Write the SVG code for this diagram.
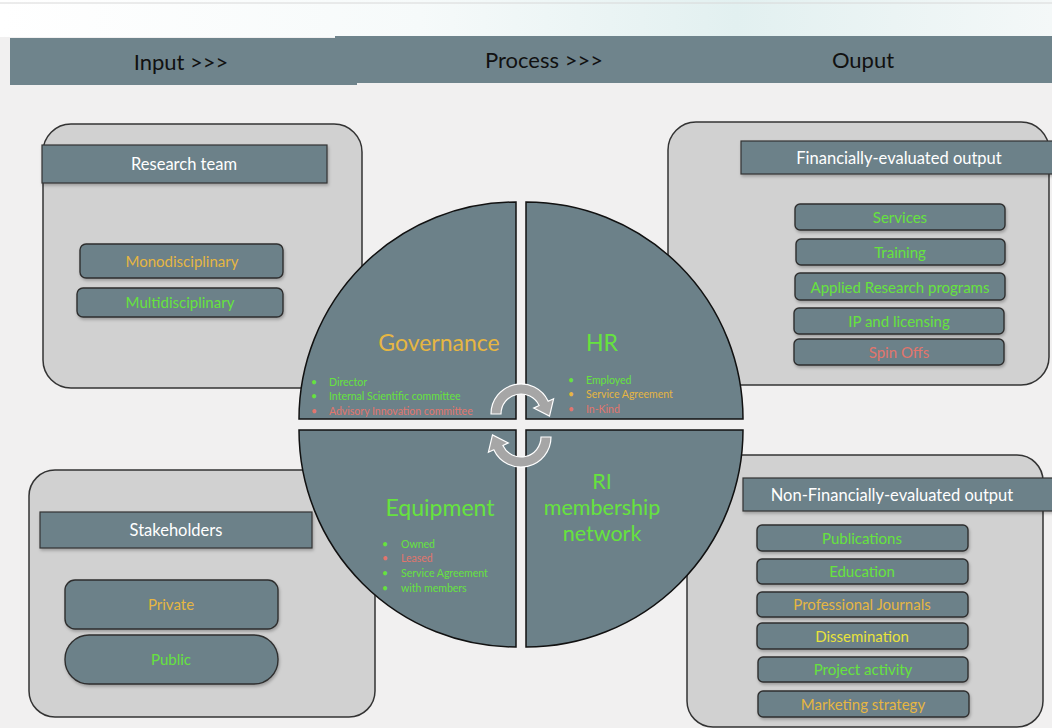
<svg xmlns="http://www.w3.org/2000/svg" width="1052" height="728" viewBox="0 0 1052 728">
<defs>
<linearGradient id="topg" x1="0" y1="0" x2="1" y2="0">
<stop offset="0" stop-color="#ffffff"/>
<stop offset="0.4" stop-color="#f6fafa"/>
<stop offset="0.7" stop-color="#e2f0f0"/>
<stop offset="1" stop-color="#f4f8f8"/>
</linearGradient>
<filter id="sh" x="-10%" y="-10%" width="120%" height="130%">
<feDropShadow dx="1" dy="2" stdDeviation="1.5" flood-color="#000" flood-opacity="0.25"/>
</filter>
</defs>
<style>
text{font-family:Lato,"Liberation Sans",sans-serif;}
.band{fill:#6f848c;}
.bandt{font-size:22px;fill:#111;text-anchor:middle;}
.panel{fill:#d1d1d1;stroke:#333;stroke-width:1.5;}
.ph{fill:#6c8189;stroke:#333;stroke-width:1.2;filter:url(#sh);}
.pht{font-size:16.5px;fill:#fff;text-anchor:middle;}
.box{fill:#6c8189;stroke:#2e2e2e;stroke-width:1.4;filter:url(#sh);}
.bt{font-size:15px;text-anchor:middle;}
.q{fill:#6c8189;stroke:#111;stroke-width:1.5;}
.qt{font-size:23px;text-anchor:middle;}
.qt2{font-size:21.5px;text-anchor:middle;}
.bl{font-size:10.5px;}
.g{fill:#66e33e;}
.o{fill:#e6b642;}
.r{fill:#e2756c;}
.y{fill:#e9e23a;}
.arr{fill:#a6a6a6;stroke:#ffffff;stroke-width:1.2;}
</style>
<rect x="0" y="0" width="1052" height="728" fill="#f1f0f0"/>
<rect x="0" y="0" width="1052" height="37" fill="url(#topg)"/>
<line x1="0" y1="3" x2="1052" y2="3" stroke="#d8d8d8" stroke-width="1"/>
<g id="header">
<rect class="band" x="10" y="38" width="347" height="47"/>
<rect class="band" x="335" y="36" width="717" height="47"/>
<text class="bandt" x="181" y="70">Input &gt;&gt;&gt;</text>
<text class="bandt" x="544" y="68">Process &gt;&gt;&gt;</text>
<text class="bandt" x="863" y="68">Ouput</text>
</g>
<g id="research-team">
<rect class="panel" x="43" y="124" width="319" height="264" rx="28"/>
<rect class="ph" x="42" y="145" width="285" height="38"/>
<text class="pht" x="184" y="170">Research team</text>
<rect class="box" x="80" y="244" width="203" height="34" rx="6"/>
<text class="bt o" x="182" y="267">Monodisciplinary</text>
<rect class="box" x="77" y="288" width="206" height="29" rx="6"/>
<text class="bt g" x="180" y="308">Multidisciplinary</text>
</g>
<g id="stakeholders">
<rect class="panel" x="29" y="470" width="346" height="247" rx="26"/>
<rect class="ph" x="40" y="512" width="272" height="36"/>
<text class="pht" x="176" y="536">Stakeholders</text>
<rect class="box" x="65" y="580" width="213" height="49" rx="10"/>
<text class="bt o" x="171" y="610">Private</text>
<rect class="box" x="65" y="635" width="213" height="49" rx="24"/>
<text class="bt g" x="171" y="665">Public</text>
</g>
<g id="financial-output">
<rect class="panel" x="668" y="122" width="381" height="263" rx="28"/>
<rect class="ph" x="741" y="141" width="320" height="33"/>
<text class="pht" x="899" y="164">Financially-evaluated output</text>
<rect class="box" x="795" y="204" width="210" height="26" rx="5"/>
<text class="bt g" x="900" y="223">Services</text>
<rect class="box" x="796" y="239" width="209" height="26" rx="5"/>
<text class="bt g" x="900" y="258">Training</text>
<rect class="box" x="795" y="273" width="210" height="27" rx="5"/>
<text class="bt g" x="900" y="293">Applied Research programs</text>
<rect class="box" x="794" y="308" width="210" height="26" rx="5"/>
<text class="bt g" x="899" y="327">IP and licensing</text>
<rect class="box" x="794" y="339" width="210" height="26" rx="5"/>
<text class="bt r" x="899" y="358">Spin Offs</text>
</g>
<g id="nonfinancial-output">
<rect class="panel" x="687" y="455" width="356" height="272" rx="26"/>
<rect class="ph" x="743" y="478" width="310" height="33"/>
<text class="pht" x="892" y="501">Non-Financially-evaluated output</text>
<rect class="box" x="757" y="525" width="211" height="26" rx="5"/>
<text class="bt g" x="862" y="544">Publications</text>
<rect class="box" x="757" y="559" width="211" height="25" rx="5"/>
<text class="bt g" x="862" y="577">Education</text>
<rect class="box" x="757" y="592" width="211" height="25" rx="5"/>
<text class="bt o" x="862" y="610">Professional Journals</text>
<rect class="box" x="757" y="623" width="211" height="26" rx="5"/>
<text class="bt y" x="862" y="642">Dissemination</text>
<rect class="box" x="758" y="657" width="210" height="25" rx="5"/>
<text class="bt g" x="863" y="675">Project activity</text>
<rect class="box" x="758" y="691" width="211" height="26" rx="5"/>
<text class="bt o" x="863" y="710">Marketing strategy</text>
</g>
<g id="governance">
<path class="q" d="M516 419 L299 419 A217 217 0 0 1 516 202 Z"/>
<text class="qt o" x="439" y="351">Governance</text>
<g class="bl">
<text class="g" x="311" y="386">•</text><text class="g" x="329" y="386">Director</text>
<text class="g" x="311" y="400">•</text><text class="g" x="329" y="400">Internal Scientific committee</text>
<text class="r" x="311" y="415">•</text><text class="r" x="329" y="415">Advisory Innovation committee</text>
</g>
</g>
<g id="hr">
<path class="q" d="M526 419 L526 202 A217 217 0 0 1 743 419 Z"/>
<text class="qt g" x="602" y="351">HR</text>
<g class="bl">
<text class="g" x="568" y="384">•</text><text class="g" x="586" y="384">Employed</text>
<text class="o" x="568" y="398">•</text><text class="o" x="586" y="398">Service Agreement</text>
<text class="r" x="568" y="413">•</text><text class="r" x="586" y="413">In-Kind</text>
</g>
</g>
<g id="equipment">
<path class="q" d="M516 430 L516 647 A217 217 0 0 1 299 430 Z"/>
<text class="qt g" x="440" y="516">Equipment</text>
<g class="bl">
<text class="g" x="382" y="548">•</text><text class="g" x="401" y="548">Owned</text>
<text class="r" x="382" y="562">•</text><text class="r" x="401" y="562">Leased</text>
<text class="g" x="382" y="577">•</text><text class="g" x="401" y="577">Service Agreement</text>
<text class="g" x="382" y="592">•</text><text class="g" x="401" y="592">with members</text>
</g>
</g>
<g id="ri-membership-network">
<path class="q" d="M526 430 L743 430 A217 217 0 0 1 526 647 Z"/>
<text class="qt2 g" x="602" y="489">RI</text>
<text class="qt2 g" x="602" y="515">membership</text>
<text class="qt2 g" x="602" y="541">network</text>
</g>
<g id="connectors">
<path class="arr" d="M491 414 A30 30 0 0 1 548.2 401.3 L553.6 398.8 L549.5 416.1 L533.7 408.1 L539.1 405.5 A20 20 0 0 0 501 414 Z"/>
<path class="arr" d="M551 437 A30 30 0 0 1 493.8 449.7 L488.4 452.2 L492.5 434.9 L508.3 442.9 L502.9 445.5 A20 20 0 0 0 541 437 Z"/>
</g>
</svg>
